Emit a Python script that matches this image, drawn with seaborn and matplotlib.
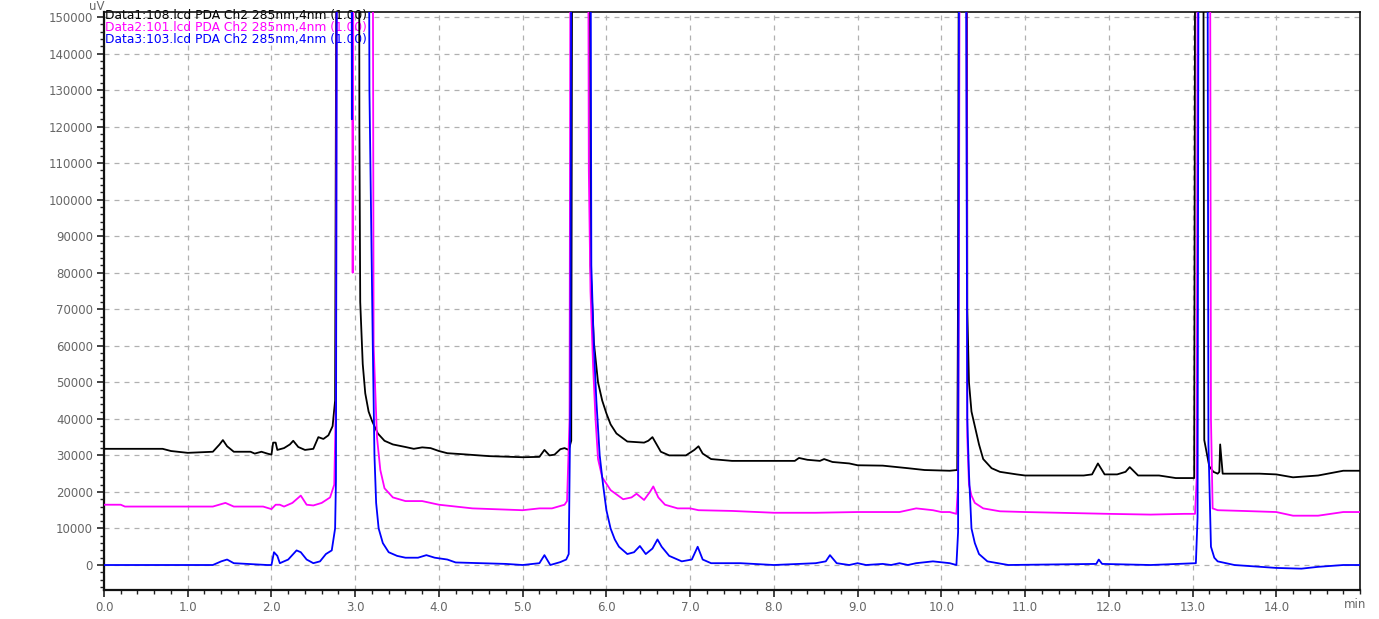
import matplotlib
matplotlib.use("Agg")
import matplotlib.pyplot as plt
import seaborn as sns
import pandas as pd
import numpy as np
from matplotlib.ticker import MultipleLocator, FixedLocator, FormatStrFormatter

# ---------------- data ----------------
OFF = 300000  # off-scale peak tops (clipped by the axis)

t1 = [0.0, 0.7, 0.8, 1.0, 1.3, 1.38, 1.42, 1.47, 1.55, 1.75, 1.8, 1.88, 1.95, 2.0, 2.02, 2.05,
      2.07, 2.15, 2.22, 2.26, 2.32, 2.4, 2.5, 2.56, 2.62, 2.68, 2.73, 2.76, 2.79, 3.04, 3.05,
      3.06, 3.09, 3.12, 3.16, 3.2, 3.27, 3.35, 3.45, 3.6, 3.7, 3.8, 3.9, 4.0, 4.1, 4.3, 4.6,
      5.0, 5.2, 5.26, 5.32, 5.38, 5.45, 5.5, 5.55, 5.58, 5.6, 5.79, 5.81, 5.85, 5.9, 5.95,
      6.0, 6.05, 6.12, 6.25, 6.45, 6.5, 6.55, 6.6, 6.65, 6.75, 6.95, 7.05, 7.1, 7.15, 7.25,
      7.5, 8.0, 8.25, 8.3, 8.4, 8.55, 8.6, 8.7, 8.9, 9.0, 9.3, 9.6, 9.8, 10.1, 10.19, 10.2,
      10.22, 10.3, 10.31, 10.33, 10.36, 10.4, 10.45, 10.5, 10.6, 10.7, 10.9, 11.0, 11.7, 11.8,
      11.87, 11.95, 12.1, 12.2, 12.25, 12.35, 12.6, 12.8, 13.02, 13.04, 13.12, 13.14, 13.2,
      13.25, 13.3, 13.32, 13.33, 13.36, 13.4, 13.8, 14.0, 14.2, 14.5, 14.8, 15.0]
v1 = [31800, 31800, 31200, 30700, 31000, 33000, 34200, 32500, 31000, 31000, 30500, 31000, 30500,
      30200, 33500, 33500, 31500, 32000, 33000, 34000, 32300, 31500, 31800, 35000, 34500, 35500,
      38000, 45000, OFF, OFF, 120000, 72000, 55000, 47000, 42000, 39500, 36000, 34000, 33000,
      32300, 31800, 32200, 32000, 31200, 30600, 30300, 29800, 29500, 29600, 31500, 30000, 30200,
      31700, 32000, 31500, 34000, OFF, OFF, 82000, 61000, 50000, 45000, 41500, 38500, 36000,
      33800, 33500, 34000, 35000, 33000, 31000, 30000, 30000, 31500, 32500, 30500, 29000, 28500,
      28500, 28500, 29300, 28800, 28500, 29000, 28200, 27800, 27300, 27200, 26500, 26000, 25800,
      26000, 78000, OFF, OFF, 70000, 50000, 42000, 38000, 33000, 29000, 26500, 25500, 24800,
      24500, 24500, 24800, 27800, 24800, 24800, 25500, 26800, 24500, 24500, 23800, 23800,
      OFF, OFF, 34200, 27000, 25500, 25000, 25500, 33000, 25000, 25000, 25000, 24800, 24000,
      24500, 25800, 25800]

t2 = [0.0, 0.2, 0.25, 1.3, 1.45, 1.55, 1.9, 2.0, 2.05, 2.1, 2.15, 2.25, 2.35, 2.42, 2.5, 2.6,
      2.7, 2.75, 2.77, 2.79, 2.95, 2.97, 2.99, 3.2, 3.22, 3.26, 3.3, 3.35, 3.45, 3.6, 3.8, 4.0,
      4.2, 4.4, 5.0, 5.2, 5.35, 5.5, 5.53, 5.56, 5.58, 5.77, 5.79, 5.81, 5.84, 5.87, 5.9, 5.95,
      6.05, 6.2, 6.3, 6.36, 6.45, 6.52, 6.56, 6.62, 6.7, 6.85, 7.0, 7.1, 7.5, 8.0, 8.5, 9.0,
      9.5, 9.7, 9.9, 10.0, 10.1, 10.18, 10.2, 10.21, 10.23, 10.29, 10.31, 10.33, 10.36, 10.4,
      10.5, 10.7, 11.0, 12.0, 12.5, 12.9, 13.03, 13.05, 13.07, 13.2, 13.22, 13.24, 13.3, 13.6,
      14.0, 14.2, 14.5, 14.8, 15.0]
v2 = [16500, 16500, 16000, 16000, 17000, 16000, 16000, 15300, 16500, 16500, 16000, 17000, 19000,
      16500, 16300, 17000, 18500, 22000, 45000, OFF, OFF, 80000, OFF, OFF, 60000, 35000, 26000,
      21000, 18500, 17500, 17500, 16500, 16000, 15500, 15000, 15500, 15500, 16500, 17500, 40000,
      OFF, OFF, 108000, 75000, 55000, 40000, 29000, 24000, 20500, 18000, 18500, 19500, 17800,
      20000, 21500, 18500, 16500, 15500, 15500, 15000, 14800, 14300, 14300, 14500, 14500, 15500,
      15000, 14500, 14500, 14000, 22000, 78000, OFF, OFF, 35000, 22000, 19000, 17000, 15500,
      14700, 14500, 14000, 13800, 14000, 14000, 24000, OFF, OFF, 40000, 15500, 15000, 14800,
      14500, 13500, 13500, 14500, 14500]

t3 = [0.0, 1.3, 1.4, 1.47, 1.55, 1.95, 2.0, 2.03, 2.07, 2.1, 2.2, 2.3, 2.35, 2.42, 2.5, 2.58,
      2.65, 2.72, 2.76, 2.77, 2.79, 2.95, 2.96, 2.97, 3.15, 3.17, 3.21, 3.23, 3.25, 3.28, 3.33,
      3.4, 3.5, 3.6, 3.75, 3.85, 3.95, 4.1, 4.2, 4.5, 4.8, 5.0, 5.2, 5.26, 5.33, 5.45, 5.52,
      5.55, 5.57, 5.59, 5.8, 5.82, 5.85, 5.88, 5.92, 5.96, 6.0, 6.05, 6.1, 6.15, 6.25, 6.33,
      6.4, 6.47, 6.55, 6.61, 6.66, 6.75, 6.9, 7.02, 7.09, 7.15, 7.25, 7.6, 8.0, 8.5, 8.62,
      8.67, 8.75, 8.9, 9.0, 9.1, 9.3, 9.4, 9.5, 9.6, 9.7, 9.9, 10.1, 10.18, 10.2, 10.22, 10.28,
      10.31, 10.33, 10.36, 10.4, 10.45, 10.55, 10.8, 11.5, 11.85, 11.88, 11.92, 12.5, 13.04,
      13.06, 13.08, 13.17, 13.19, 13.22, 13.26, 13.3, 13.5, 14.0, 14.3, 14.5, 14.8, 15.0]
v3 = [0, 0, 1000, 1500, 500, 0, 0, 3500, 2500, 500, 1500, 4000, 3500, 1500, 500, 1000, 3000,
      4000, 10000, 23000, OFF, OFF, 122000, OFF, OFF, 130000, 60000, 30000, 17000, 10000, 6000,
      3500, 2500, 2000, 2000, 2700, 2000, 1500, 700, 500, 300, 0, 500, 2700, 0, 800, 1500, 3000,
      45000, OFF, OFF, 82000, 60000, 45000, 30000, 22000, 15000, 10000, 7000, 5000, 3000, 3500,
      5200, 3000, 4500, 7000, 5000, 2500, 1000, 1500, 5000, 1500, 500, 500, 0, 500, 1000, 2700,
      500, 0, 500, 0, 300, 0, 500, 0, 500, 1000, 500, 0, 9000, OFF, OFF, 40000, 25000, 10000,
      6000, 3000, 1000, 0, 200, 300, 1500, 300, 0, 500, 13000, OFF, OFF, 33000, 5000, 2000, 1000,
      0, -800, -1000, -500, 0, 0]

x_ticks = [0.0, 1.0, 2.0, 3.0, 4.0, 5.0, 6.0, 7.0, 8.0, 9.0, 10.0, 11.0, 12.0, 13.0, 14.0]

labels = ["Data1:108.lcd PDA Ch2 285nm,4nm (1.00)",
          "Data2:101.lcd PDA Ch2 285nm,4nm (1.00)",
          "Data3:103.lcd PDA Ch2 285nm,4nm (1.00)"]
colors = ["#000000", "#ff00ff", "#0000ff"]

# ---------------- figure ----------------
sns.set_style("white")
plt.rcParams['font.family'] = ['DejaVu Sans']

fig = plt.figure(figsize=(13.79, 6.19), dpi=100)
ax = fig.add_axes([104 / 1379, 1 - 590 / 619, (1360 - 104) / 1379, (590 - 12) / 619])

frames = []
for lab, t, v in zip(labels, [t1, t2, t3], [v1, v2, v3]):
    frames.append(pd.DataFrame({"time": t, "uV": v, "trace": lab}))
df = pd.concat(frames, ignore_index=True)

sns.lineplot(data=df, x="time", y="uV", hue="trace", palette=colors, estimator=None,
             sort=False, linewidth=1.3, legend=False, ax=ax, zorder=3)

ax.set_xlim(0, 15)
ax.set_ylim(-6840, 151360)
ax.set_xlabel("")
ax.set_ylabel("")

ax.xaxis.set_major_locator(FixedLocator(x_ticks))
ax.xaxis.set_minor_locator(MultipleLocator(0.2))
ax.yaxis.set_major_locator(MultipleLocator(10000))
ax.yaxis.set_minor_locator(MultipleLocator(2000))
ax.xaxis.set_major_formatter(FormatStrFormatter("%.1f"))
ax.yaxis.set_major_formatter(FormatStrFormatter("%d"))

ax.tick_params(axis="both", which="both", bottom=True, left=True, top=False, right=False)
ax.tick_params(axis="both", which="major", direction="out", length=5, width=1.2,
               labelsize=8.5, colors="#222222", pad=3)
ax.tick_params(axis="both", which="minor", direction="out", length=3, width=1.0,
               colors="#222222")
for lab in ax.get_xticklabels() + ax.get_yticklabels():
    lab.set_color("#666666")

ax.grid(True, which="major", color="#b0b0b0", linestyle=(0, (4, 4)), linewidth=0.9)
ax.set_axisbelow(True)

for side in ["left", "bottom"]:
    ax.spines[side].set_linewidth(1.6)
    ax.spines[side].set_color("#111111")
for side in ["top", "right"]:
    ax.spines[side].set_linewidth(1.2)
    ax.spines[side].set_color("#111111")

for i, (lab, c) in enumerate(zip(labels, colors)):
    ax.text(105 / 1379, 1 - (16 + 12 * i) / 619, lab, color=c, transform=fig.transFigure,
            fontsize=8.8, va="center", ha="left", zorder=2)

fig.text(97 / 1379, 1 - 6 / 619, "uV", fontsize=8.5, color="#666666", ha="center", va="center")
fig.text(1355 / 1379, 1 - 605 / 619, "min", fontsize=8.5, color="#666666", ha="center", va="center")

fig.savefig("out.png", dpi=100)
